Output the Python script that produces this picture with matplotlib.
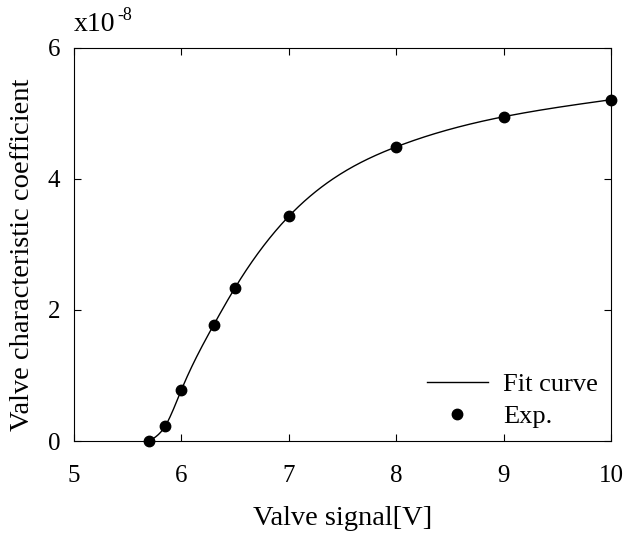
import matplotlib
matplotlib.use("Agg")
import matplotlib.pyplot as plt
import numpy as np

# measured points (y in units of 1e-8)
signal_v = np.array([5.70, 5.85, 6.00, 6.30, 6.50, 7.00, 8.00, 9.00, 10.00])
coeff = np.array([0.00, 0.23, 0.78, 1.77, 2.34, 3.43, 4.49, 4.95, 5.21])


def natural_spline(x, y):
    # natural cubic spline through the measured points
    n = len(x)
    h = np.diff(x)
    A = np.zeros((n, n))
    b = np.zeros(n)
    A[0, 0] = A[-1, -1] = 1.0
    for i in range(1, n - 1):
        A[i, i - 1] = h[i - 1]
        A[i, i] = 2 * (h[i - 1] + h[i])
        A[i, i + 1] = h[i]
        b[i] = 6 * ((y[i + 1] - y[i]) / h[i] - (y[i] - y[i - 1]) / h[i - 1])
    m = np.linalg.solve(A, b)

    def f(xx):
        i = np.clip(np.searchsorted(x, xx) - 1, 0, n - 2)
        hi = h[i]
        a = x[i + 1] - xx
        c = xx - x[i]
        return (m[i] * a**3 / (6 * hi) + m[i + 1] * c**3 / (6 * hi)
                + (y[i] / hi - m[i] * hi / 6) * a
                + (y[i + 1] / hi - m[i + 1] * hi / 6) * c)
    return f


curve = natural_spline(signal_v, coeff)
x_fit = np.linspace(signal_v[0], signal_v[-1], 400)

plt.rcParams["font.family"] = "Liberation Serif"

fig = plt.figure(figsize=(6.24, 5.33), dpi=100)
ax = fig.add_axes([0.1186, 0.1726, 0.8604, 0.7374])

ax.plot(x_fit, curve(x_fit), "k-", lw=1.0, label="Fit curve")
ax.plot(signal_v, coeff, "ko", ms=7.5, label="Exp.", clip_on=False)

ax.set_xlim(5, 10)
ax.set_ylim(0, 6)
ax.set_xticks([5, 6, 7, 8, 9, 10])
ax.set_yticks([0, 2, 4, 6])
ax.tick_params(direction="in", top=True, right=True, length=5, width=0.8,
               labelsize=18)
ax.tick_params(axis="x", pad=17)
ax.tick_params(axis="y", pad=10)
for sp in ax.spines.values():
    sp.set_linewidth(0.8)

ax.set_xlabel("Valve signal[V]", fontsize=20.5, labelpad=14)
ax.set_ylabel("Valve characteristic coefficient", fontsize=20.5)
ax.yaxis.set_label_coords(-0.072, 0.475)

# exponent label, drawn as plain text so the sign stays a hyphen
ax.text(0.0, 1.027, "x10", transform=ax.transAxes, fontsize=20,
        ha="left", va="bottom")
ax.text(0.081, 1.062, "-8", transform=ax.transAxes, fontsize=13,
        ha="left", va="bottom")

ax.legend(loc="lower right", frameon=False, fontsize=19, handlelength=2.3,
          bbox_to_anchor=(1.0, 0.0), borderaxespad=0.1, handletextpad=0.57,
          labelspacing=0.3)

fig.savefig("out.png", dpi=100)
